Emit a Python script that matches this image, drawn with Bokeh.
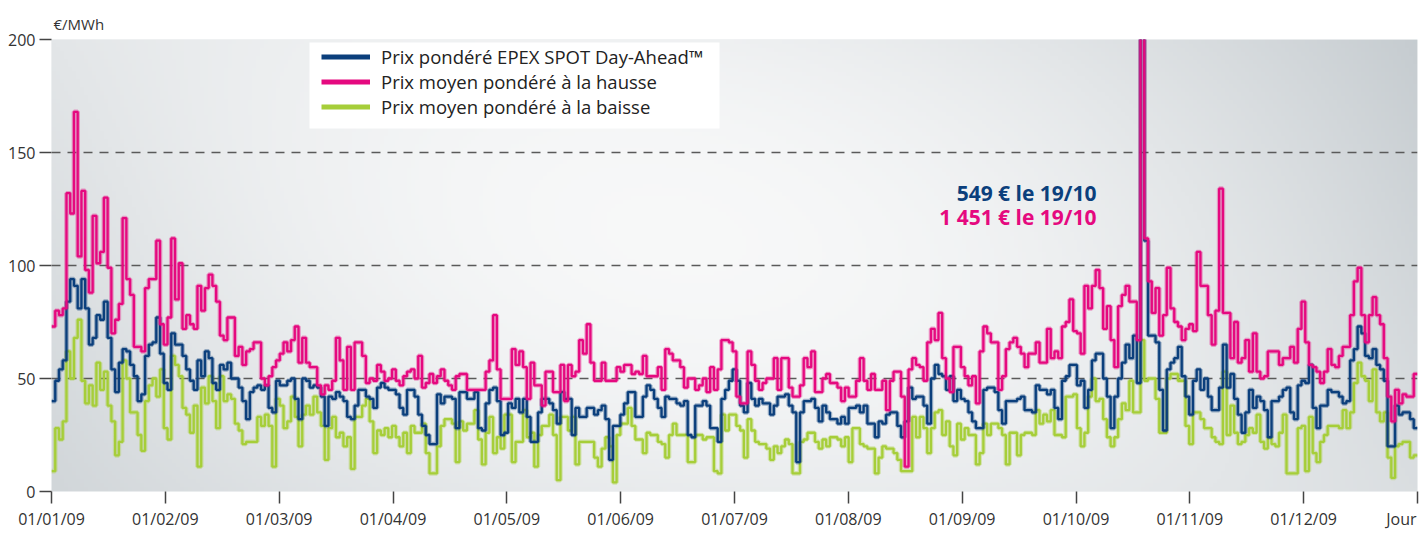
import numpy as np
from bokeh.plotting import figure
from bokeh.models import Range1d, FixedTicker, Legend, LegendItem, Label, BoxAnnotation
from bokeh.embed import file_html
from bokeh.resources import INLINE

# ---------------- data ----------------
month_labels = ["01/01/09", "01/02/09", "01/03/09", "01/04/09", "01/05/09", "01/06/09",
                "01/07/09", "01/08/09", "01/09/09", "01/10/09", "01/11/09", "01/12/09"]
end_label = "Jour"
unit_label = "€/MWh"
y_ticks = [0, 50, 100, 150, 200]

series_names = ["Prix pondéré EPEX SPOT Day-Ahead™",
                "Prix moyen pondéré à la hausse",
                "Prix moyen pondéré à la baisse"]
note_epex = "549 € le 19/10"
note_hausse = "1 451 € le 19/10"
spike_day = 291

hausse = [
    73, 80, 78, 81, 132, 123, 168, 104, 133, 98,
    88, 122, 101, 106, 130, 99, 70, 76, 83, 121,
    94, 87, 64, 64, 62, 90, 94, 94, 111, 74,
    65, 77, 112, 85, 101, 72, 78, 74, 72, 91,
    80, 90, 96, 91, 84, 69, 67, 77, 77, 60,
    64, 56, 62, 63, 66, 66, 50, 47, 51, 55,
    58, 61, 66, 62, 67, 73, 57, 68, 57, 55,
    55, 47, 43, 47, 45, 49, 68, 58, 45, 64,
    45, 66, 66, 60, 48, 50, 49, 56, 53, 49,
    50, 54, 49, 47, 51, 53, 54, 50, 60, 46,
    48, 52, 48, 51, 54, 49, 47, 45, 51, 52,
    52, 45, 45, 45, 45, 45, 53, 58, 78, 54,
    41, 41, 41, 63, 56, 62, 55, 41, 57, 47,
    47, 38, 53, 53, 44, 44, 56, 40, 56, 51,
    53, 67, 61, 74, 57, 49, 49, 57, 49, 49,
    49, 55, 53, 56, 56, 52, 53, 52, 60, 51,
    51, 51, 55, 45, 63, 61, 58, 58, 55, 46,
    50, 50, 45, 47, 50, 44, 55, 45, 54, 67,
    67, 66, 62, 42, 39, 39, 62, 56, 49, 45,
    48, 50, 50, 59, 45, 59, 59, 46, 42, 42,
    47, 59, 55, 62, 44, 44, 50, 52, 48, 48,
    46, 40, 46, 42, 42, 49, 59, 49, 45, 52,
    45, 45, 49, 36, 49, 53, 53, 42, 11, 54,
    59, 56, 55, 49, 66, 72, 67, 79, 59, 50,
    44, 64, 64, 55, 51, 47, 51, 39, 62, 73,
    70, 66, 66, 45, 51, 63, 66, 68, 64, 61,
    55, 61, 61, 66, 57, 57, 72, 59, 62, 59,
    73, 75, 85, 71, 70, 61, 91, 81, 91, 98,
    90, 72, 82, 67, 55, 82, 87, 91, 84, 84,
    67, 1451, 112, 93, 79, 90, 69, 78, 99, 81,
    75, 73, 67, 72, 74, 71, 106, 91, 91, 78,
    65, 80, 134, 79, 79, 59, 75, 57, 59, 67,
    53, 70, 53, 50, 51, 62, 62, 62, 56, 59,
    59, 64, 57, 72, 84, 66, 56, 55, 53, 48,
    53, 63, 56, 55, 60, 64, 64, 78, 93, 99,
    78, 66, 78, 86, 78, 74, 59, 42, 31, 45,
    39, 43, 42, 42, 52,
]

epex = [
    40, 49, 54, 58, 84, 94, 91, 81, 94, 81,
    65, 68, 78, 76, 84, 68, 54, 44, 57, 63,
    62, 56, 51, 40, 43, 60, 65, 66, 77, 61,
    48, 45, 70, 65, 65, 60, 54, 49, 45, 58,
    51, 62, 59, 48, 45, 56, 54, 57, 50, 50,
    46, 40, 32, 44, 46, 47, 45, 47, 37, 35,
    49, 47, 47, 49, 50, 41, 32, 50, 49, 46,
    47, 46, 42, 29, 42, 41, 44, 42, 40, 33,
    32, 38, 45, 45, 42, 41, 37, 46, 48, 46,
    45, 45, 43, 37, 34, 45, 45, 42, 34, 29,
    25, 21, 21, 43, 39, 42, 42, 41, 28, 44,
    44, 41, 41, 44, 28, 27, 39, 45, 46, 40,
    25, 26, 39, 37, 41, 35, 41, 33, 22, 22,
    35, 41, 41, 39, 36, 30, 44, 41, 41, 25,
    37, 33, 33, 37, 37, 34, 36, 38, 32, 14,
    29, 29, 34, 39, 44, 44, 33, 33, 42, 47,
    45, 41, 37, 33, 42, 41, 41, 39, 38, 40,
    25, 24, 38, 38, 40, 38, 28, 28, 22, 41,
    45, 49, 54, 49, 38, 35, 48, 41, 38, 41,
    39, 39, 34, 38, 42, 42, 43, 38, 35, 13,
    35, 40, 40, 41, 37, 31, 38, 35, 32, 32,
    30, 33, 30, 37, 37, 38, 35, 38, 30, 30,
    24, 31, 30, 34, 35, 35, 29, 24, 31, 46,
    41, 42, 42, 38, 30, 50, 56, 52, 51, 45,
    51, 40, 45, 41, 40, 35, 31, 28, 28, 45,
    46, 46, 44, 36, 30, 40, 40, 40, 41, 42,
    36, 36, 35, 47, 45, 45, 43, 45, 37, 32,
    49, 51, 56, 56, 47, 49, 37, 45, 58, 61,
    61, 50, 42, 28, 42, 50, 57, 65, 59, 69,
    48, 549, 111, 69, 69, 66, 45, 27, 54, 57,
    59, 64, 51, 42, 34, 49, 54, 45, 50, 42,
    36, 36, 46, 65, 46, 52, 41, 34, 26, 35,
    45, 37, 42, 40, 36, 24, 40, 40, 42, 45,
    46, 35, 32, 47, 49, 48, 56, 37, 28, 38,
    38, 45, 44, 44, 42, 39, 40, 58, 63, 73,
    70, 60, 59, 63, 56, 54, 49, 20, 20, 38,
    34, 35, 35, 32, 28,
]

baisse = [
    9, 28, 23, 31, 62, 50, 68, 76, 49, 39,
    47, 38, 57, 45, 53, 38, 31, 16, 22, 58,
    50, 35, 35, 25, 18, 40, 47, 50, 42, 54,
    28, 23, 60, 56, 51, 37, 34, 26, 38, 11,
    46, 39, 51, 40, 28, 51, 40, 43, 41, 30,
    27, 21, 22, 22, 22, 33, 29, 34, 29, 11,
    41, 38, 28, 31, 42, 33, 20, 34, 38, 34,
    42, 35, 29, 14, 28, 33, 24, 26, 20, 24,
    10, 33, 33, 38, 41, 31, 17, 27, 25, 28,
    24, 29, 24, 20, 26, 17, 29, 26, 26, 30,
    17, 8, 8, 20, 29, 32, 32, 30, 13, 31,
    27, 30, 30, 36, 23, 12, 26, 33, 17, 24,
    19, 34, 34, 13, 22, 22, 36, 24, 26, 11,
    25, 29, 29, 34, 25, 5, 33, 33, 27, 33,
    12, 22, 22, 22, 22, 15, 11, 19, 24, 20,
    4, 25, 30, 30, 37, 29, 23, 23, 17, 26,
    25, 25, 22, 21, 15, 25, 30, 25, 25, 25,
    13, 13, 25, 25, 23, 24, 24, 9, 8, 34,
    27, 34, 34, 29, 27, 15, 32, 27, 22, 21,
    21, 19, 14, 20, 17, 20, 23, 21, 8, 8,
    22, 23, 26, 26, 22, 19, 23, 20, 24, 24,
    23, 20, 24, 13, 28, 28, 21, 20, 19, 19,
    8, 15, 20, 19, 19, 17, 14, 9, 9, 9,
    33, 24, 33, 28, 17, 28, 35, 36, 25, 31,
    20, 16, 30, 23, 28, 25, 25, 12, 17, 30,
    25, 30, 30, 28, 25, 12, 26, 26, 16, 25,
    26, 26, 25, 36, 30, 34, 31, 36, 25, 25,
    24, 42, 42, 43, 28, 20, 26, 42, 50, 40,
    41, 32, 24, 20, 24, 32, 39, 36, 49, 35,
    35, 67, 49, 50, 50, 41, 26, 26, 50, 52,
    52, 49, 49, 29, 21, 35, 35, 32, 28, 28,
    24, 22, 21, 53, 25, 38, 26, 21, 22, 25,
    28, 26, 34, 22, 19, 24, 21, 20, 26, 34,
    8, 8, 8, 28, 29, 9, 33, 17, 13, 22,
    25, 29, 29, 29, 28, 36, 28, 35, 48, 57,
    51, 49, 40, 54, 35, 31, 35, 15, 6, 20,
    21, 22, 22, 15, 16,
]

# ---------------- styling ----------------
FONT = "Open Sans"
BLUE = "#0b3f7c"
PINK = "#e5097f"
GREEN = "#a6ce39"
TEXT = "#333333"

n_days = len(epex)
n_slots = len(month_labels)
scale = n_slots / n_days            # x axis measured in months (12 equal slots)
Y_MAX = 200

FRAME_L, FRAME_R, FRAME_T, FRAME_B = 51, 1417, 39, 491     # pixel frame of the plot


def px_x(px):   # pixel -> x data
    return (px - FRAME_L) / (FRAME_R - FRAME_L) * n_slots


def px_y(py):   # pixel -> y data
    return (FRAME_B - py) / (FRAME_B - FRAME_T) * Y_MAX


def step_xy(values):
    x = np.arange(len(values) + 1) * scale
    y = list(values) + [values[-1]]
    return x, y


p = figure(width=1424, height=533, x_range=Range1d(0, n_slots), y_range=Range1d(0, Y_MAX),
           output_backend="svg", toolbar_location=None,
           min_border_left=FRAME_L, min_border_right=1424 - FRAME_R,
           min_border_top=FRAME_T, min_border_bottom=533 - FRAME_B)
p.outline_line_color = None
p.background_fill_color = "#e4e7ea"
p.border_fill_color = "white"

# unit label as the (left aligned) title
p.title.text = unit_label
p.title.align = "left"
p.title.offset = 2
p.title.standoff = 12
p.title.text_font = FONT
p.title.text_font_size = "15px"
p.title.text_font_style = "normal"
p.title.text_color = TEXT

# soft grey background gradient (style only)
H, W = 113, 342
u = np.linspace(0, 1, W)
v = np.linspace(0, 1, H)
U, V = np.meshgrid(u, v)
ctrl = np.array([[214, 236, 222],   # bottom row  (left, centre, right)
                 [222, 248, 214],   # middle row
                 [230, 240, 204]])  # top row


def lag(t):
    return [2 * (t - 0.5) * (t - 1), -4 * t * (t - 1), 2 * t * (t - 0.5)]


Lu, Lv = lag(U), lag(V)
G = sum(ctrl[j, i] * Lu[i] * Lv[j] for i in range(3) for j in range(3))
G = np.clip(G, 0, 253)
img = np.empty((H, W), dtype=np.uint32)
view = img.view(dtype=np.uint8).reshape((H, W, 4))
view[:, :, 0] = np.clip(G - 0.12 * (255 - G), 0, 255).astype(np.uint8)
view[:, :, 1] = G.astype(np.uint8)
view[:, :, 2] = np.clip(G + 0.08 * (255 - G), 0, 255).astype(np.uint8)
view[:, :, 3] = 255
p.image_rgba(image=[img], x=0, y=0, dw=n_slots, dh=Y_MAX, level="image")

# grid
p.xgrid.visible = False
p.ygrid.ticker = FixedTicker(ticks=y_ticks[1:-1])
p.ygrid.grid_line_color = "#5a5a5a"
p.ygrid.grid_line_width = 1.4
p.ygrid.grid_line_dash = "9 7"

# axes
tick_overrides = {i: lab for i, lab in enumerate(month_labels)}
# last label is kept inside the canvas; an en space keeps it just left of its tick
tick_overrides[n_slots] = end_label + "\u2002"
p.xaxis.ticker = FixedTicker(ticks=list(range(n_slots + 1)))
p.xaxis.major_label_overrides = tick_overrides
p.yaxis.ticker = FixedTicker(ticks=y_ticks)
for ax in (p.xaxis[0], p.yaxis[0]):
    ax.axis_line_color = None
    ax.major_tick_out = 12
    ax.major_tick_in = 0
    ax.major_tick_line_color = "#444444"
    ax.major_tick_line_width = 1.5
    ax.minor_tick_line_color = None
    ax.major_label_text_font = FONT
    ax.major_label_text_font_size = "16px"
    ax.major_label_text_color = TEXT
    ax.major_label_standoff = 4

# series (step lines with a soft halo); pink drawn above blue
legend_proxy = {}
for vals, col in ((baisse, GREEN), (epex, BLUE), (hausse, PINK)):
    x, y = step_xy(vals)
    p.step(x, y, mode="after", line_color=col, line_width=4.6, line_alpha=0.35)
    p.step(x, y, mode="after", line_color=col, line_width=2.3)
    legend_proxy[col] = p.step(x, y, mode="after", line_color=col, line_width=5, visible=False)

# white panel behind the legend
p.add_layout(BoxAnnotation(left=px_x(309), right=px_x(719), top=px_y(42), bottom=px_y(128),
                           fill_color="white", fill_alpha=1.0, line_color=None))

# legend
legend = Legend(items=[LegendItem(label=n, renderers=[legend_proxy[c]])
                       for n, c in zip(series_names, (BLUE, PINK, GREEN))],
                location=(270, 372))
legend.background_fill_alpha = 0.0
legend.border_line_color = None
legend.label_text_font = FONT
legend.label_text_font_size = "18.5px"
legend.label_text_color = "#222222"
legend.glyph_width = 49
legend.glyph_height = 21
legend.label_height = 21
legend.label_standoff = 11
legend.spacing = 0
legend.padding = 0
legend.margin = 0
p.add_layout(legend)

# annotations
xs = spike_day * scale
p.add_layout(Label(x=xs, y=132, x_offset=-44, text=note_epex, text_align="right",
                   text_baseline="middle", text_font=FONT, text_font_style="bold",
                   text_font_size="21px", text_color=BLUE))
p.add_layout(Label(x=xs, y=121.5, x_offset=-44, text=note_hausse, text_align="right",
                   text_baseline="middle", text_font=FONT, text_font_style="bold",
                   text_font_size="21px", text_color=PINK))

open("out.html", "w").write(file_html(p, INLINE))
